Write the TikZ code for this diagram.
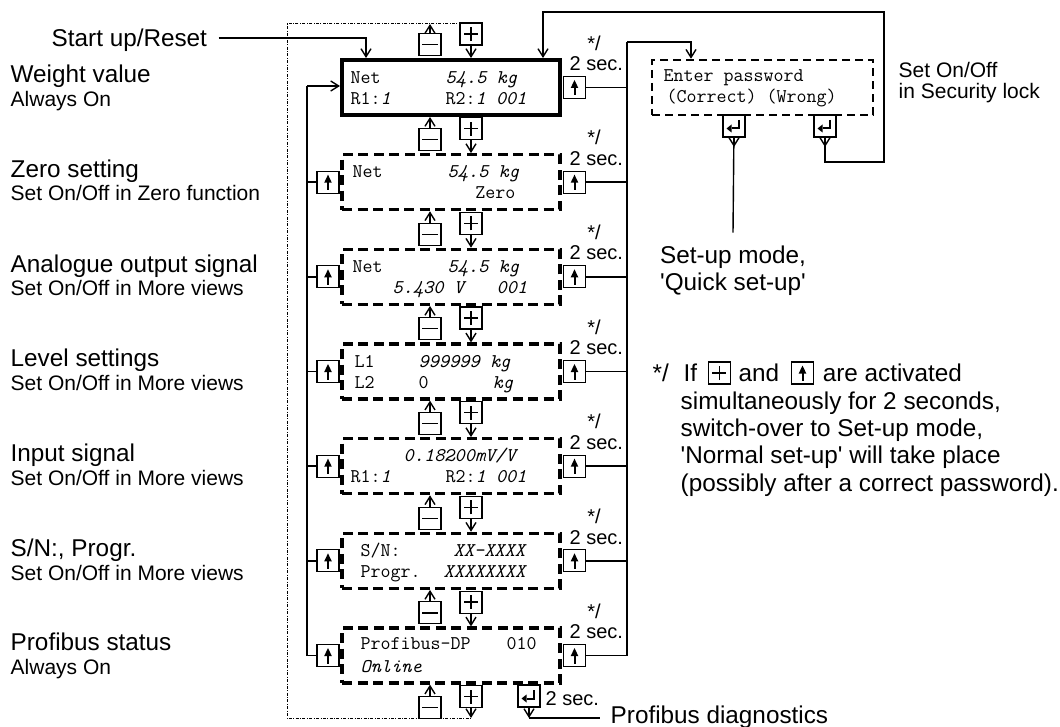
\documentclass[tikz,border=0pt]{standalone}
\usepackage{fontspec}
\setmainfont{Liberation Sans}
\usetikzlibrary{arrows.meta,positioning}

\begin{document}
\begin{tikzpicture}[x=1pt, y=-1pt, line width=1.4pt, >={Straight Barb[length=8pt,width=10pt]},
  big/.style={font=\fontsize{24.3}{28}\selectfont, inner sep=0pt, anchor=west, text height=17.4pt, text depth=0pt},
  small/.style={big, font=\fontsize{21}{24}\selectfont, text height=15pt},
  sec/.style={big, font=\fontsize{20}{24}\selectfont, text height=14.3pt},
  lcd/.style={font=\ttfamily\fontsize{19.4}{22}\selectfont, inner sep=0pt, anchor=west, text height=11.5pt, text depth=0pt},
  mainbox/.style={draw, line width=4pt, minimum width=218pt, minimum height=55pt},
  lcdbox/.style={draw, line width=3.2pt, dash pattern=on 10pt off 5.5pt, minimum width=218pt, minimum height=55pt},
  pwbox/.style={draw, line width=2.5pt, dash pattern=on 8pt off 5pt, minimum width=221pt, minimum height=55pt},
  ring/.style={line width=1pt, dash pattern=on 3pt off 1.5pt on 0.8pt off 1.5pt},
  btn/.style={draw, line width=1.1pt, minimum size=22pt, inner sep=0pt},
  keyplus/.style={btn, path picture={\draw[line width=1.2pt] ([xshift=-7pt]path picture bounding box.center) -- ++(14pt,0pt)
      ([yshift=-7pt]path picture bounding box.center) -- ++(0pt,14pt);}},
  keyminus/.style={btn, path picture={\draw[line width=1.3pt] ([xshift=-8pt]path picture bounding box.center) -- ++(16pt,0pt);}},
  keyup/.style={btn, path picture={\fill ([yshift=7.5pt]path picture bounding box.center) -- ++(-3.8pt,-8pt) -- ++(7.6pt,0pt) -- cycle;
      \draw[line width=2pt] (path picture bounding box.center) -- ++(0pt,-8pt);}},
  keyenter/.style={btn, path picture={\draw[line width=2pt] ([shift={(4.5pt,6pt)}]path picture bounding box.center) -- ++(0pt,-8.5pt) -- ++(-7pt,0pt);
      \fill ([shift={(-7.5pt,-2.5pt)}]path picture bounding box.center) -- ++(5pt,4pt) -- ++(0pt,-8pt) -- cycle;}}]
\useasboundingbox (0,0) rectangle (1060,727);

% left column labels
\node[big] (start) at (51,38) {Start up/Reset};
\node[big] at (10,74) {Weight value};
\node[small] at (10,99) {Always On};
\node[big] at (10,168.5) {Zero setting};
\node[small] at (10,193.5) {Set On/Off in Zero function};
\node[big] at (10,263.5) {Analogue output signal};
\node[small] at (10,288.5) {Set On/Off in More views};
\node[big] at (10,358) {Level settings};
\node[small] at (10,383) {Set On/Off in More views};
\node[big] at (10,452.5) {Input signal};
\node[small] at (10,477.5) {Set On/Off in More views};
\node[big] at (10,547.5) {S/N:, Progr.};
\node[small] at (10,572.5) {Set On/Off in More views};
\node[big] at (10,642) {Profibus status};
\node[small] at (10,667) {Always On};

% displays
\node[mainbox] (d1) at (451,87.5) {};
\foreach \k [evaluate=\k as \c using 87.5+94.67*(\k-1)] in {2,...,7}
  \node[lcdbox] (d\k) at (451,\c) {};

\node[lcd] at (350,77.5) {Net};
\node[lcd] at (445,77.5) {\textit{54.5 kg}};
\node[lcd] at (350,98.5) {R1:\textit{1}};
\node[lcd] at (445,98.5) {R2:\textit{1 001}};
\node[lcd] at (352,172) {Net};
\node[lcd] at (447,172) {\textit{54.5 kg}};
\node[lcd, anchor=east] at (516,193) {Zero};
\node[lcd] at (352,267) {Net};
\node[lcd] at (447,267) {\textit{54.5 kg}};
\node[lcd] at (392,288) {\textit{5.430 V}};
\node[lcd] at (496,288) {\textit{001}};
\node[lcd] at (354,361.5) {L1};
\node[lcd] at (418,361.5) {\textit{999999 kg}};
\node[lcd] at (354,382.5) {L2};
\node[lcd] at (418,382.5) {0};
\node[lcd] at (492,382.5) {\textit{kg}};
\node[lcd] at (403,456) {\textit{0.18200mV/V}};
\node[lcd] at (350,477) {R1:\textit{1}};
\node[lcd] at (445,477) {R2:\textit{1 001}};
\node[lcd] at (360,550.5) {S/N:};
\node[lcd] at (453,550.5) {\textit{XX-XXXX}};
\node[lcd] at (360,572) {Progr.};
\node[lcd] at (443,572) {\textit{XXXXXXXX}};
\node[lcd] at (360,644) {Profibus-DP};
\node[lcd] at (506,644) {010};
\node[lcd] at (360,667) {\textit{Online}};

% plus / minus keys between the displays
\foreach \k [evaluate=\k as \c using 87.5+94.67*(\k-1)] in {0,...,7} {
  \node[keyplus] (p\k) at (471,\c+41.2) {};
  \node[keyminus] (m\k) at (430,\c+52) {};
}
\foreach \k/\n in {0/1,1/2,2/3,3/4,4/5,5/6,6/7}
  \draw[->] (p\k) -- (d\n.north -| p\k);
\foreach \k in {1,...,7}
  \draw[->] (m\k) -- (d\k.south -| m\k);

% wrap-around loop
\coordinate (lpT) at (482,24);
\coordinate (lpTL) at (287,24);
\coordinate (lpBL) at (287,718);
\coordinate (lpB) at (471,718);
\draw[ring] (lpT) -- (lpTL) -- (lpBL) -- (lpB);
\draw[->] (m0) -- (m0 |- lpT);
\draw[->] (p7) -- (p7 |- lpB);

% up keys, left side
\coordinate (lt) at (307,86);
\foreach \k [evaluate=\k as \c using 87.5+94.67*(\k-1)] in {2,...,7} {
  \node[keyup] (l\k) at (328,\c) {};
  \draw (l\k) -- (l\k -| lt);
}
\draw (l7) -| (lt);
\draw[->] (lt) -- (d1.west |- lt);
\draw[->] (start.east) ++(11,0) -| (366,0 |- d1.north);

% up keys, right side
\coordinate (rt) at (627,42);
\foreach \k [evaluate=\k as \c using 87.5+94.67*(\k-1)] in {1,...,7} {
  \node[keyup] (r\k) at (574.5,\c) {};
  \node[sec, anchor=center] at (594,\c-44.5) {*/};
  \node[sec] at (569,\c-24) {2 sec.};
  \draw (r\k) -- (r\k -| rt);
}
\draw (r7) -| (rt);

% password
\node[pwbox] (pw) at (762.5,87.5) {};
\node[lcd] at (663,76) {Enter password};
\node[lcd] at (666,97) {(Correct) (Wrong)};
\draw[->] (rt) -| (691,0 |- pw.north);
\node[keyenter] (e1) at (734,126) {};
\node[keyenter] (e2) at (825,126) {};
\node[small] at (898,70) {Set On/Off};
\node[small] at (898,90.7) {in Security lock};

\node[big, anchor=center] (qk1) at (733,255) {Set-up mode,};
\node[big, anchor=center] (qk2) at (733,281.5) {\textquotesingle Quick set-up\textquotesingle};
\draw[->] (e1) -- ++(0,21);
\draw (e1) -- ([yshift=13pt]qk1.north);

\coordinate (wr) at (884,162);
\coordinate (wt) at (884,12);
\draw[->] (e2) -- ++(0,21);
\draw[->] (e2) |- (wr) -- (wt) -| (543,0 |- d1.north);

% profibus diagnostics
\node[keyenter] (e3) at (529,696) {};
\node[sec] at (545,698.5) {2 sec.};
\node[big] (diag) at (610,715) {Profibus diagnostics};
\coordinate (dc) at (529,718);
\coordinate (dg) at ([xshift=-10pt]diag.west);
\draw[->] (e3) -- (dc);
\draw (dc) -- (dg |- dc);

% footnote
\node[big] (fa) at (652,373) {*/};
\node[big] (f1) at (683,373) {If};
\node[keyplus, right=10pt of f1] (fp) {};
\node[big, right=7pt of fp] (f2) {and};
\node[keyup, right=11pt of f2] (fu) {};
\node[big, right=8pt of fu] (f3) {are activated};
\node[big] at (680,400.3) {simultaneously for 2 seconds,};
\node[big] at (680,427.6) {switch-over to Set-up mode,};
\node[big] at (680,455) {\textquotesingle Normal set-up\textquotesingle{} will take place};
\node[big] at (680,482.3) {(possibly after a correct password).};
\end{tikzpicture}
\end{document}
